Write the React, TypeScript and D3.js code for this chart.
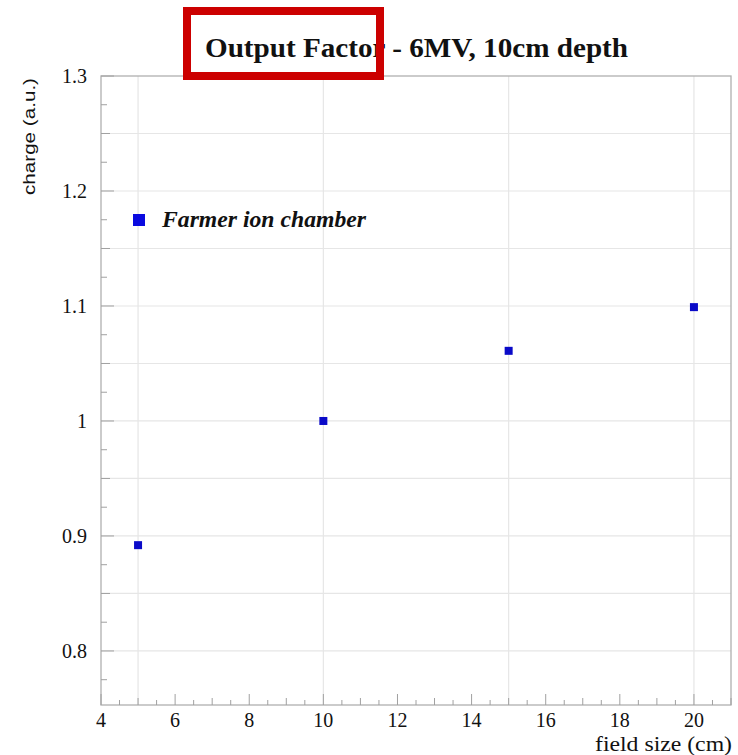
import React from "react";
import * as d3 from "d3";

// measured output factor, Farmer chamber
const fieldSizes = [5, 10, 15, 20];
const charges = [0.892, 1.0, 1.061, 1.099];

const xTickLabels = [4, 6, 8, 10, 12, 14, 16, 18, 20];
const yTickLabels = [0.8, 0.9, 1.0, 1.1, 1.2, 1.3];
const xGrid = [5, 10, 15, 20];
const yGrid = [0.8, 0.85, 0.9, 0.95, 1.0, 1.05, 1.1, 1.15, 1.2, 1.25];

const W = 738;
const H = 755;

export default function App() {
  const x = d3.scaleLinear().domain([4, 21]).range([101, 731]);
  const y = d3.scaleLinear().domain([0.753, 1.3]).range([705, 76]);

  const xMinor = d3.range(4, 21.01, 0.5);
  const yMinor = d3.range(0.775, 1.3001, 0.025);
  const serif = "'Liberation Serif', 'Times New Roman', serif";

  return (
    <svg
      width={W}
      height={H}
      style={{ position: "absolute", left: 0, top: 0, background: "#fff" }}
    >
      {/* grid */}
      {xGrid.map((v) => (
        <line key={"gx" + v} x1={x(v)} x2={x(v)} y1={y.range()[1]} y2={y.range()[0]} stroke="#e6e6e6" strokeWidth={1.2} />
      ))}
      {yGrid.map((v) => (
        <line key={"gy" + v} x1={x.range()[0]} x2={x.range()[1]} y1={y(v)} y2={y(v)} stroke="#e6e6e6" strokeWidth={1.2} />
      ))}

      {/* frame */}
      <rect x={101} y={76} width={630} height={629} fill="none" stroke="#b0b0b0" strokeWidth={1.3} />

      {/* x ticks */}
      {xMinor.map((v) => {
        const major = Math.abs(v % 2) < 1e-6;
        const mid = Math.abs(v % 1) < 1e-6;
        const len = major ? 11 : mid ? 7 : 5;
        return <line key={"xt" + v} x1={x(v)} x2={x(v)} y1={705} y2={705 - len} stroke="#a0a0a0" strokeWidth={1} />;
      })}
      {yMinor.map((v) => {
        const r = Math.round(v * 1000);
        const major = r % 100 === 0;
        const mid = r % 50 === 0;
        const len = major ? 13 : mid ? 9 : 6;
        return <line key={"yt" + v} x1={101} x2={101 + len} y1={y(v)} y2={y(v)} stroke="#a0a0a0" strokeWidth={1} />;
      })}

      {/* tick labels */}
      {xTickLabels.map((v) => (
        <text key={"xl" + v} x={x(v)} y={727} textAnchor="middle" fontFamily={serif} fontSize={20} fill="#111">
          {v}
        </text>
      ))}
      {yTickLabels.map((v) => (
        <text key={"yl" + v} x={87} y={y(v) + 7} textAnchor="end" fontFamily={serif} fontSize={20} fill="#111">
          {v === 1 ? "1" : String(v)}
        </text>
      ))}

      {/* axis titles */}
      <text x={732} y={751} textAnchor="end" fontFamily={serif} fontSize={20} textLength={137} lengthAdjust="spacingAndGlyphs" fill="#111">
        field size (cm)
      </text>
      <text
        transform="translate(35,78) rotate(-90)"
        textAnchor="end"
        fontFamily="'Liberation Sans', Arial, sans-serif"
        fontSize={17}
        textLength={117}
        lengthAdjust="spacingAndGlyphs"
        fill="#111"
      >
        charge (a.u.)
      </text>

      {/* data */}
      {fieldSizes.map((f, i) => (
        <rect key={"p" + f} x={x(f) - 4} y={y(charges[i]) - 4} width={8} height={8} fill="#0a0ac8" />
      ))}

      {/* legend */}
      <rect x={133} y={214} width={12} height={12} fill="#0a0ae0" />
      <text x={162} y={227} fontFamily={serif} fontSize={23} fontWeight="bold" fontStyle="italic" textLength={204} lengthAdjust="spacingAndGlyphs" fill="#111">
        Farmer ion chamber
      </text>

      {/* title */}
      <text x={205} y={57} fontFamily={serif} fontSize={28} fontWeight="bold" textLength={423} lengthAdjust="spacingAndGlyphs" fill="#111">
        Output Factor - 6MV, 10cm depth
      </text>

      {/* highlight box */}
      <rect x={187} y={11} width={193} height={65} fill="none" stroke="#cc0000" strokeWidth={8} />
    </svg>
  );
}
